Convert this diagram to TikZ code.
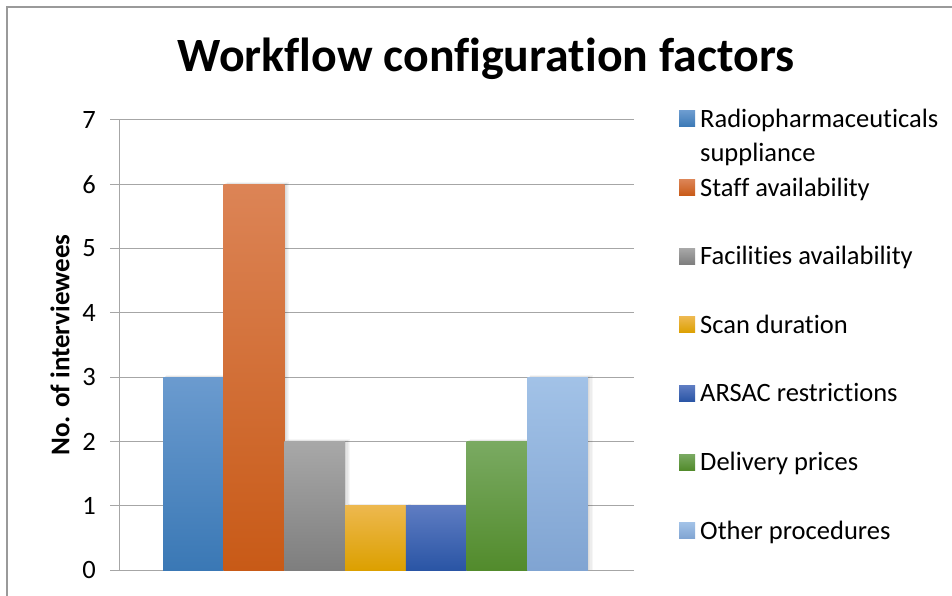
\documentclass[tikz,border=0pt]{standalone}
\usepackage{fontspec}
\setmainfont{Carlito}[Ligatures={NoCommon}]
\usetikzlibrary{calc}
\definecolor{framegray}{HTML}{9A9A9A}
\definecolor{gridgray}{HTML}{A6A6A6}
\begin{document}
\begin{tikzpicture}[x=1pt,y=-1pt,
  frame/.style={draw=framegray,line width=1.3pt},
  gridline/.style={draw=gridgray,line width=1pt},
  ticklabel/.style={anchor=east,inner sep=0pt,font=\fontsize{26.5}{30}\selectfont},
  legtext/.style={anchor=base west,inner sep=0pt,font=\fontsize{26.5}{30}\selectfont},
  legbox/.style={minimum size=16pt,inner sep=0pt,draw=none},
]
\useasboundingbox (0,0) rectangle (952,596);
\fill[white] (0,0) rectangle (952,596);
% chart area border
\draw[frame] (7,596) -- (7,7) -- (952,7);

% title
\node[font=\bfseries\fontsize{47.8}{54}\selectfont,inner sep=0pt,anchor=base] (title) at (486,71.5) {Workflow configuration factors};

% horizontal gridlines and value labels
\foreach \v in {0,...,7}{
  \pgfmathsetmacro{\yy}{570-64.2857*\v}
  \draw[gridline] (110,\yy) -- (634,\yy);
  \node[ticklabel] (tick\v) at (96,\yy) {\v};
}
% vertical axis
\draw[gridline] (119,120) -- (119,570);

% axis title
\node[rotate=90,font=\bfseries\fontsize{27}{31}\selectfont,inner sep=0pt] (ylabel) at (60,345) {No. of interviewees};

% bars: value, top colour, bottom colour
\def\bw{60.71}
\foreach \i/\val/\ct/\cb in {
  0/3/6B9BCF/3A78B5,
  1/6/DC8456/C85A17,
  2/2/A8A8A8/7E7E7E,
  3/1/EDB84E/DCA000,
  4/1/5E7CC2/2A55A5,
  5/2/7AAA62/528B2C,
  6/3/A2C2E7/80A4D2}{
  \pgfmathsetmacro{\xl}{163+\bw*\i}
  \pgfmathsetmacro{\xr}{\xl+\bw}
  \pgfmathsetmacro{\yt}{570-64.2857*\val}
  % soft shadow
  \foreach \s in {1,2,3,4}{
    \fill[black,opacity=0.035] (\xl+\s*0.8,\yt-\s*0.5) rectangle (\xr+\s*1.2,570);
  }
}
\foreach \i/\val/\ct/\cb in {
  0/3/6B9BCF/3A78B5,
  1/6/DC8456/C85A17,
  2/2/A8A8A8/7E7E7E,
  3/1/EDB84E/DCA000,
  4/1/5E7CC2/2A55A5,
  5/2/7AAA62/528B2C,
  6/3/A2C2E7/80A4D2}{
  \pgfmathsetmacro{\xl}{163+\bw*\i}
  \pgfmathsetmacro{\xr}{\xl+\bw}
  \pgfmathsetmacro{\yt}{570-64.2857*\val}
  \definecolor{ctop}{HTML}{\ct}
  \definecolor{cbot}{HTML}{\cb}
  \shade[top color=ctop,bottom color=cbot] (\xl,\yt) rectangle (\xr,570);
}

% legend
\foreach \k/\txt/\ct/\cb in {
  0/Radiopharmaceuticals/6B9BCF/3A78B5,
  1/Staff availability/DC8456/C85A17,
  2/Facilities availability/A8A8A8/7E7E7E,
  3/Scan duration/EDB84E/DCA000,
  4/ARSAC restrictions/5E7CC2/2A55A5,
  5/Delivery prices/7AAA62/528B2C,
  6/Other procedures/A2C2E7/80A4D2}{
  \pgfmathsetmacro{\ly}{119+68.6*\k}
  \definecolor{ctop}{HTML}{\ct}
  \definecolor{cbot}{HTML}{\cb}
  \node[legbox,top color=ctop,bottom color=cbot] (key\k) at (687,\ly) {};
  \node[legtext] (leg\k) at (700,\ly+8.5) {\txt};
}
\node[legtext] (leg0b) at (700,119+8.5+33.5) {suppliance};
\end{tikzpicture}
\end{document}
